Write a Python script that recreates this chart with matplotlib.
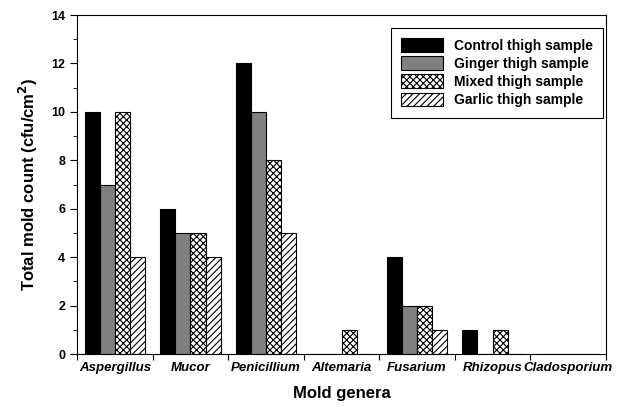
import matplotlib
matplotlib.use("Agg")
import matplotlib.pyplot as plt
import numpy as np

plt.rcParams['font.family'] = ['Liberation Sans', 'DejaVu Sans']
plt.rcParams['hatch.linewidth'] = 0.8

# Dati
generi = ['Aspergillus', 'Mucor', 'Penicillium', 'Altemaria', 'Fusarium', 'Rhizopus', 'Cladosporium']
controllo = [10, 6, 12, 0, 4, 1, 0]
zenzero = [7, 5, 10, 0, 2, 0, 0]
misto = [10, 5, 8, 1, 2, 1, 0]
aglio = [4, 4, 5, 0, 1, 0, 0]

serie = [
    (controllo, 'Control thigh sample', 'black', None),
    (zenzero, 'Ginger thigh sample', '#808080', None),
    (misto, 'Mixed thigh sample', 'white', 'xxxxx'),
    (aglio, 'Garlic thigh sample', 'white', '/////'),
]

fig = plt.figure(figsize=(6.17, 4.07), dpi=100)
ax = fig.add_axes([0.125, 0.130, 0.857, 0.833])

x = np.arange(len(generi)) + 0.5
w = 0.2
for i, (vals, lab, col, hat) in enumerate(serie):
    ax.bar(x + (i - 1.5) * w, vals, width=w, color=col, edgecolor='black',
           linewidth=0.8, hatch=hat, label=lab)

ax.set_xlim(0, len(generi))
ax.set_ylim(0, 14)
ax.set_xticks(np.arange(len(generi) + 1))
ax.set_xticklabels([])
ax.set_xticks(x, minor=True)
ax.set_xticklabels(generi, minor=True, fontsize=9.5, fontweight='bold', style='italic')
ax.tick_params(axis='x', which='minor', length=0, pad=6)
ax.tick_params(axis='x', which='major', length=4, direction='out')
ax.set_yticks(np.arange(0, 15, 2))
ax.set_yticks(np.arange(1, 14, 2), minor=True)
ax.tick_params(axis='y', which='major', length=5, direction='out', labelsize=9)
ax.tick_params(axis='y', which='minor', length=3, direction='out')
for t in ax.get_yticklabels():
    t.set_fontweight('bold')

ax.set_xlabel('Mold genera', fontsize=12, fontweight='bold', labelpad=8)
ax.set_ylabel('Total mold count (cfu/cm$^{\\mathbf{2}}$)', fontsize=12, fontweight='bold', labelpad=8)

leg = ax.legend(loc='upper right', bbox_to_anchor=(0.995, 0.962), fancybox=False,
                edgecolor='black', framealpha=1, handlelength=3.0, handleheight=1.15,
                prop={'weight': 'bold', 'size': 10}, borderpad=0.75, labelspacing=0.25,
                borderaxespad=0)
leg.get_frame().set_linewidth(0.8)

fig.savefig('out.png', dpi=100)
